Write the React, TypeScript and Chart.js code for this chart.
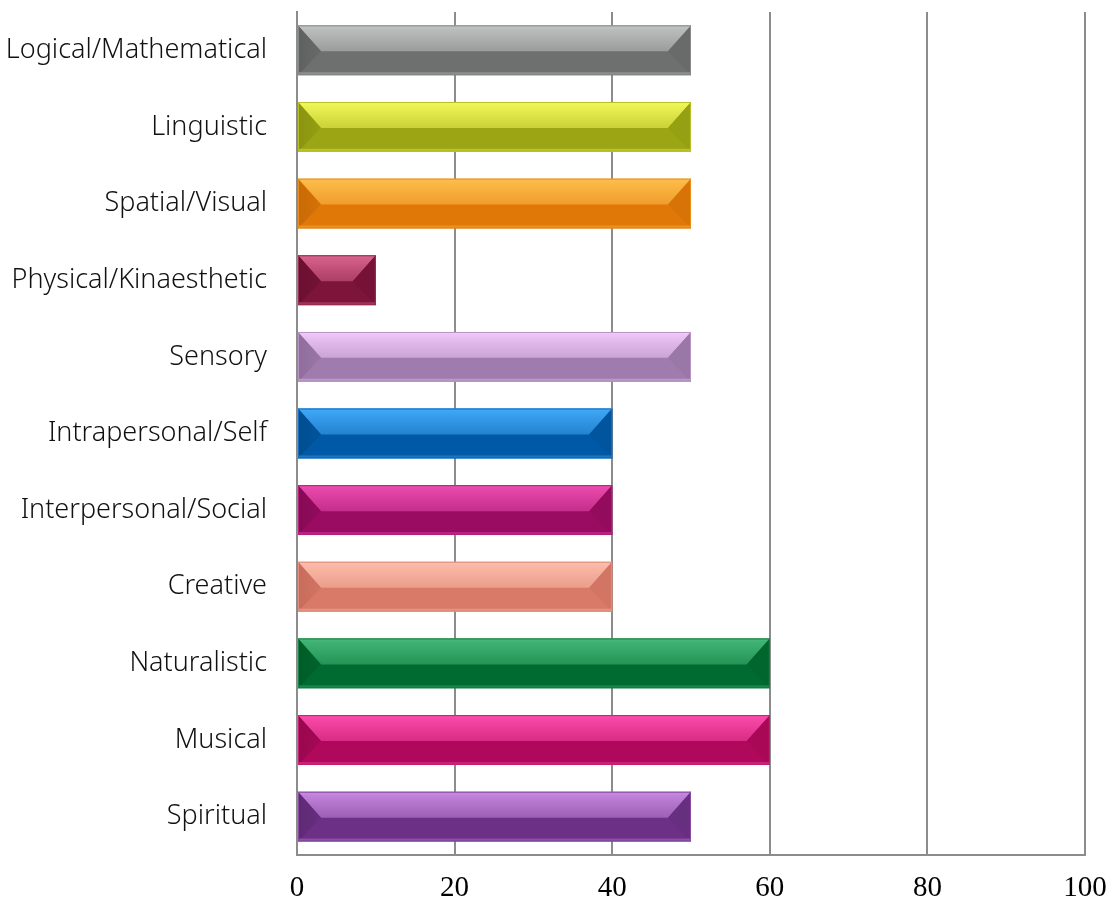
import React, { useEffect, useRef } from "react";
import { Chart, registerables } from "chart.js";

Chart.register(...registerables);

const categories = [
  "Logical/Mathematical",
  "Linguistic",
  "Spatial/Visual",
  "Physical/Kinaesthetic",
  "Sensory",
  "Intrapersonal/Self",
  "Interpersonal/Social",
  "Creative",
  "Naturalistic",
  "Musical",
  "Spiritual",
];
const values = [50, 50, 50, 10, 50, 40, 40, 40, 60, 60, 50];
const xTicks = [0, 20, 40, 60, 80, 100];

const baseColors = [
  "#6e706f", "#9ca614", "#e07808", "#7d1439", "#9f7cad", "#0059a6",
  "#9a0c62", "#d97a68", "#006b30", "#b0085a", "#6c3186",
];
const lightColors = [
  "#c4c7c6", "#f6fc5c", "#ffc24e", "#dc6890", "#f4ccfc", "#44acfc",
  "#f050b4", "#ffc0ae", "#48bc7c", "#ff50b0", "#cc8ce4",
];
const edgeColors = [
  "#5f6160", "#8a9410", "#c86a06", "#6a0f30", "#8f6d9c", "#004d90",
  "#860a55", "#c86c5c", "#005c28", "#98074e", "#5e2a75",
];

function mix(a: string, b: string, t: number) {
  const pa = [1, 3, 5].map((i) => parseInt(a.slice(i, i + 2), 16));
  const pb = [1, 3, 5].map((i) => parseInt(b.slice(i, i + 2), 16));
  const c = pa.map((v, i) => Math.round(v + (pb[i] - v) * t));
  return `rgb(${c[0]},${c[1]},${c[2]})`;
}

const bevelPlugin = {
  id: "bevel",
  afterDatasetsDraw(chart: any) {
    const ctx = chart.ctx;
    const meta = chart.getDatasetMeta(0);
    meta.data.forEach((el: any, i: number) => {
      const left = Math.min(el.base, el.x);
      const right = Math.max(el.base, el.x);
      const h = el.height;
      const top = el.y - h / 2;
      const bottom = el.y + h / 2;
      const mid = el.y + 1;
      const w = Math.min(23, (right - left) / 2);
      const base = baseColors[i];
      const light = lightColors[i];
      const edge = edgeColors[i];
      ctx.save();
      const g = ctx.createLinearGradient(0, top, 0, mid);
      g.addColorStop(0, light);
      g.addColorStop(0.15, mix(light, base, 0.12));
      g.addColorStop(1, mix(light, base, 0.5));
      ctx.fillStyle = g;
      ctx.beginPath();
      ctx.moveTo(left, top);
      ctx.lineTo(right, top);
      ctx.lineTo(right - w, mid);
      ctx.lineTo(left + w, mid);
      ctx.closePath();
      ctx.fill();
      const gl = ctx.createLinearGradient(left, 0, left + w, 0);
      gl.addColorStop(0, edge);
      gl.addColorStop(1, mix(edge, base, 0.6));
      ctx.fillStyle = gl;
      ctx.beginPath();
      ctx.moveTo(left, top);
      ctx.lineTo(left + w, mid);
      ctx.lineTo(left, bottom);
      ctx.closePath();
      ctx.fill();
      ctx.fillStyle = mix(base, edge, 0.35);
      ctx.beginPath();
      ctx.moveTo(right, top);
      ctx.lineTo(right - w, mid);
      ctx.lineTo(right, bottom);
      ctx.closePath();
      ctx.fill();
      ctx.fillStyle = mix(base, light, 0.35);
      ctx.fillRect(left, bottom - 3, right - left, 2);
      ctx.strokeStyle = mix(base, light, 0.3);
      ctx.lineWidth = 1;
      ctx.strokeRect(left + 0.5, top + 0.5, right - left - 1, h - 1);
      ctx.restore();
    });
  },
};

export default function App() {
  const ref = useRef<HTMLCanvasElement | null>(null);
  useEffect(() => {
    if (!ref.current) return;
    const chart = new Chart(ref.current, {
      type: "bar",
      data: {
        labels: categories,
        datasets: [
          {
            data: values,
            backgroundColor: baseColors,
            borderWidth: 0,
            barPercentage: 0.65,
            categoryPercentage: 1,
          },
        ],
      },
      plugins: [bevelPlugin],
      options: {
        indexAxis: "y",
        responsive: false,
        animation: false,
        layout: { padding: { top: 12, right: 25, left: 0, bottom: 0 } },
        plugins: { legend: { display: false }, tooltip: { enabled: false } },
        scales: {
          x: {
            min: 0,
            max: 100,
            afterBuildTicks: (scale: any) => {
              scale.ticks = xTicks.map((v) => ({ value: v }));
            },
            afterFit: (scale: any) => {
              scale.height = 47;
              scale.paddingLeft = 0;
              scale.paddingRight = 0;
            },
            grid: { color: "#8c8c8c", lineWidth: 2, drawTicks: false },
            border: { display: true, color: "#8c8c8c", width: 2 },
            ticks: {
              padding: 16,
              color: "#000",
              font: { family: "'Liberation Serif', serif", size: 29 },
            },
          },
          y: {
            afterFit: (scale: any) => {
              scale.width = 297;
              scale.paddingTop = 0;
              scale.paddingBottom = 0;
            },
            grid: { display: false, drawTicks: false },
            border: { display: true, color: "#8c8c8c", width: 2 },
            ticks: {
              padding: 30,
              color: "#111",
              font: { family: "'Noto Sans', sans-serif", size: 27, weight: "300" },
            },
          },
        },
      },
    });
    return () => chart.destroy();
  }, []);
  return (
    <div style={{ position: "fixed", left: 0, top: 0, width: 1110, height: 902, background: "#fff" }}>
      <canvas ref={ref} width={1110} height={902} />
    </div>
  );
}
